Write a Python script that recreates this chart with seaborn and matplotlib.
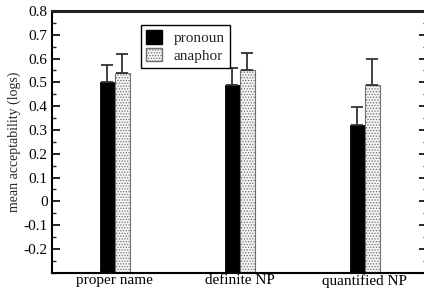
import numpy as np
import pandas as pd
import seaborn as sns
import matplotlib.pyplot as plt
from matplotlib.patches import Patch
from matplotlib.ticker import MultipleLocator, FuncFormatter

categories = ["proper name", "definite NP", "quantified NP"]
conditions = ["pronoun", "anaphor"]
pronoun_means = [0.50, 0.49, 0.32]
anaphor_means = [0.54, 0.55, 0.487]
pronoun_err = [0.075, 0.07, 0.075]
anaphor_err = [0.08, 0.075, 0.11]
baseline = -0.3

df = pd.DataFrame({
    "category": categories * 2,
    "condition": ["pronoun"] * 3 + ["anaphor"] * 3,
    "value": pronoun_means + anaphor_means,
})

sns.set_style("ticks")
plt.rcParams["font.family"] = ["Liberation Serif", "DejaVu Serif"]
plt.rcParams["hatch.color"] = "#a0a0a0"
plt.rcParams["hatch.linewidth"] = 0.6

fig = plt.figure(figsize=(4.24, 2.93), dpi=100)
ax = fig.add_axes([52 / 424, 1 - 272.7 / 293, 375 / 424, (272.7 - 11) / 293])

sns.barplot(data=df, x="category", y="value", hue="condition",
            order=categories, hue_order=conditions,
            palette=["black", "white"], width=0.24, errorbar=None,
            saturation=1, ax=ax, legend=False)

# bars start at the bottom of the axis; style anaphor bars; upward error bars
errs = {"pronoun": pronoun_err, "anaphor": anaphor_err}
for container, cond in zip(ax.containers, conditions):
    for i, bar in enumerate(container):
        h = bar.get_height()
        bar.set_y(baseline)
        bar.set_height(h - baseline)
        if cond == "anaphor":
            bar.set_facecolor("#f4f4f4")
            bar.set_hatch("......")
            bar.set_edgecolor("#707070")
            bar.set_linewidth(0.8)
        else:
            bar.set_edgecolor("black")
            bar.set_linewidth(0.6)
        xc = bar.get_x() + bar.get_width() / 2
        ax.errorbar(xc, h, yerr=[[0], [errs[cond][i]]], fmt="none",
                    ecolor="#333333", elinewidth=1.3, capsize=4, capthick=1.3)

ax.set_xlim(-0.5, 2.5)
ax.set_ylim(baseline, 0.8)
ax.set_yticks(np.round(np.arange(-0.2, 0.81, 0.1), 2))
ax.yaxis.set_minor_locator(MultipleLocator(0.05))
ax.yaxis.set_major_formatter(FuncFormatter(lambda v, p: f"{v:g}" if abs(v) > 1e-9 else "0"))
ax.tick_params(axis="y", which="major", direction="in", length=6, width=1.2,
               right=True, labelsize=11, pad=3, colors="black")
ax.tick_params(axis="y", which="minor", direction="in", length=3, width=1.0,
               right=True)
ax.tick_params(axis="x", length=0, labelsize=11, pad=1, colors="black")
ax.set_xlabel("")
ax.set_ylabel("mean acceptability (logs)", fontsize=10, labelpad=2)

for side in ["top", "bottom", "left", "right"]:
    ax.spines[side].set_visible(True)
    ax.spines[side].set_color("black")
ax.spines["top"].set_linewidth(2.2)
ax.spines["top"].set_color("#222222")
ax.spines["left"].set_linewidth(1.5)
ax.spines["bottom"].set_linewidth(1.5)
ax.spines["right"].set_linewidth(1.5)

handles = [Patch(facecolor="black", edgecolor="black", label="pronoun"),
           Patch(facecolor="#f4f4f4", edgecolor="#707070", hatch="......", label="anaphor")]
leg = ax.legend(handles=handles, loc="upper left", bbox_to_anchor=(0.237, 0.947),
                frameon=True, fancybox=False, framealpha=1, fontsize=11,
                handlelength=1.0, handleheight=1.0, handletextpad=0.8,
                borderpad=0.35, labelspacing=0.15, borderaxespad=0)
leg.get_frame().set_edgecolor("black")
leg.get_frame().set_linewidth(1.0)

fig.savefig("out.png", dpi=100)
